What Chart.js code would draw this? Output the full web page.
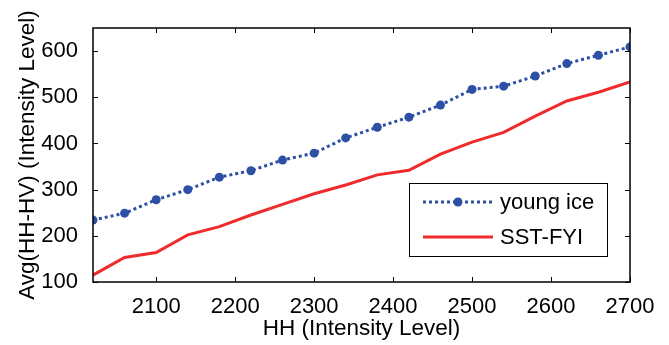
<!DOCTYPE html>
<html>
<head>
<meta charset="utf-8">
<script src="https://cdn.jsdelivr.net/npm/chart.js@4.4.1/dist/chart.umd.min.js"></script>
<style>
  html, body { margin: 0; padding: 0; background: #fff; }
  #wrap { width: 669px; height: 345px; }
</style>
</head>
<body>
<div id="wrap"><canvas id="chart" width="669" height="345"></canvas></div>
<script>
// Data
const hhLevels = [2020, 2060, 2100, 2140, 2180, 2220, 2260, 2300, 2340,
                  2380, 2420, 2460, 2500, 2540, 2580, 2620, 2660, 2700];
const youngIce = [234, 249, 278, 300, 327, 341, 364, 379, 412,
                  435, 457, 483, 517, 524, 546, 573, 591, 609];
const sstFyi   = [115, 153, 164, 202, 220, 245, 268, 291, 310,
                  332, 342, 377, 403, 424, 459, 492, 511, 533];
const xTicks = [2100, 2200, 2300, 2400, 2500, 2600, 2700];
const yTicks = [100, 200, 300, 400, 500, 600];

const blue = '#2d4fa5';
const red = '#ef2b2b';
const fontFamily = '"Liberation Sans", Arial, sans-serif';

function toPoints(values) {
    return hhLevels.map((x, i) => ({ x: x, y: values[i] }));
}

// box around the plot, inward ticks on all four sides, legend inside
const matlabFrame = {
    id: 'matlabFrame',
    afterDraw(chart) {
        const ctx = chart.ctx;
        const a = chart.chartArea;
        const xs = chart.scales.x, ys = chart.scales.y;
        const tick = 5;
        ctx.save();
        ctx.strokeStyle = '#000';
        ctx.lineWidth = 1;
        ctx.beginPath();
        xTicks.forEach(v => {
            const px = Math.round(xs.getPixelForValue(v)) + 0.5;
            ctx.moveTo(px, a.bottom); ctx.lineTo(px, a.bottom - tick);
            ctx.moveTo(px, a.top); ctx.lineTo(px, a.top + tick);
        });
        yTicks.forEach(v => {
            const py = Math.round(ys.getPixelForValue(v)) + 0.5;
            ctx.moveTo(a.left, py); ctx.lineTo(a.left + tick, py);
            ctx.moveTo(a.right, py); ctx.lineTo(a.right - tick, py);
        });
        ctx.stroke();
        ctx.lineWidth = 1.5;
        ctx.strokeRect(a.left, a.top, a.right - a.left, a.bottom - a.top);

        // legend
        const bx = 409, by = 183, bw = 198, bh = 73;
        ctx.fillStyle = '#fff';
        ctx.fillRect(bx, by, bw, bh);
        ctx.lineWidth = 1;
        ctx.strokeRect(bx + 0.5, by + 0.5, bw, bh);
        const rows = [by + 19, by + 54];
        chart.data.datasets.forEach((ds, i) => {
            const y = rows[i];
            ctx.save();
            ctx.strokeStyle = ds.borderColor;
            ctx.lineWidth = ds.borderWidth;
            ctx.setLineDash(ds.borderDash || []);
            ctx.beginPath();
            ctx.moveTo(bx + 14, y);
            ctx.lineTo(bx + 84, y);
            ctx.stroke();
            ctx.restore();
            if (ds.pointRadius > 0) {
                ctx.fillStyle = ds.pointBackgroundColor;
                ctx.beginPath();
                ctx.arc(bx + 49, y, ds.pointRadius, 0, Math.PI * 2);
                ctx.fill();
            }
            ctx.fillStyle = '#000';
            ctx.font = '22px ' + fontFamily;
            ctx.textBaseline = 'middle';
            ctx.textAlign = 'left';
            ctx.fillText(ds.label, bx + 91, y + 1);
        });
        ctx.restore();
    }
};

new Chart(document.getElementById('chart'), {
    type: 'line',
    data: {
        datasets: [{
            label: 'young ice',
            data: toPoints(youngIce),
            borderColor: blue,
            borderWidth: 3,
            borderDash: [3, 3],
            pointRadius: 4.5,
            pointBackgroundColor: blue,
            pointBorderWidth: 0,
            tension: 0
        }, {
            label: 'SST-FYI',
            data: toPoints(sstFyi),
            borderColor: red,
            borderWidth: 3,
            pointRadius: 0,
            tension: 0
        }]
    },
    options: {
        responsive: false,
        animation: false,
        layout: { padding: { top: 28, right: 39, left: 0, bottom: 0 } },
        plugins: { legend: { display: false }, tooltip: { enabled: false } },
        scales: {
            x: {
                type: 'linear',
                min: 2020,
                max: 2700,
                afterBuildTicks: s => { s.ticks = xTicks.map(v => ({ value: v })); },
                afterFit: s => { s.height = 63; },
                grid: { display: false },
                border: { display: false },
                ticks: {
                    color: '#000', padding: 4, maxRotation: 0,
                    font: { family: fontFamily, size: 22 },
                    callback: v => String(v)
                },
                title: {
                    display: true,
                    text: 'HH (Intensity Level)',
                    color: '#000',
                    padding: { top: 0, bottom: 3 },
                    font: { family: fontFamily, size: 22.5 }
                }
            },
            y: {
                min: 100,
                max: 650,
                afterBuildTicks: s => { s.ticks = yTicks.map(v => ({ value: v })); },
                afterFit: s => { s.width = 93; },
                grid: { display: false },
                border: { display: false },
                ticks: {
                    color: '#000', padding: 7,
                    font: { family: fontFamily, size: 22 },
                    callback: v => String(v)
                },
                title: {
                    display: true,
                    text: 'Avg(HH-HV) (Intensity Level)',
                    color: '#000',
                    padding: { top: 14, bottom: 0 },
                    font: { family: fontFamily, size: 22.5 }
                }
            }
        }
    },
    plugins: [matlabFrame]
});
</script>
</body>
</html>
